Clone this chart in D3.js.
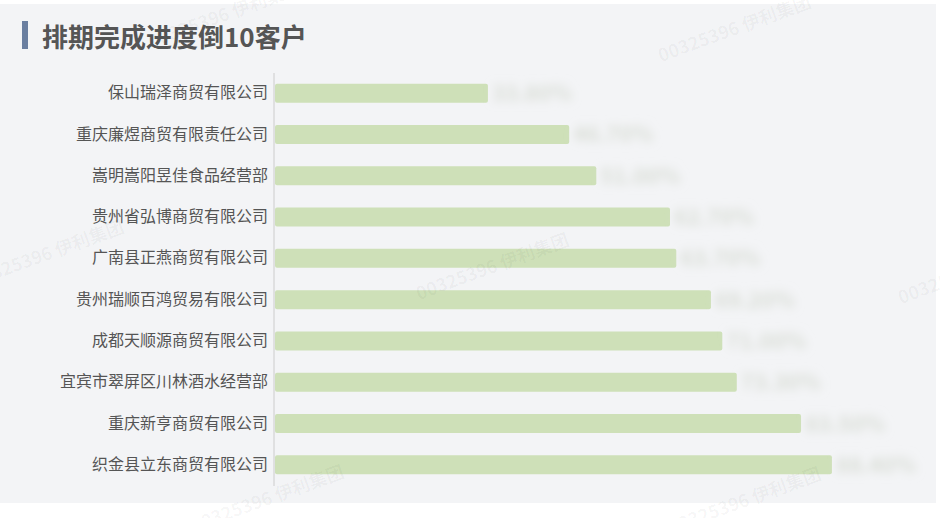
<!DOCTYPE html>
<html>
<head>
<meta charset="utf-8">
<script src="https://cdn.jsdelivr.net/npm/d3@7/dist/d3.min.js"></script>
<style>
  html, body { margin: 0; padding: 0; background: #ffffff; }
  svg { display: block; }
</style>
</head>
<body>
<svg id="chart" width="940" height="518"></svg>
<script>
const title = "排期完成进度倒10客户";
const categories = [
  "保山瑞泽商贸有限公司",
  "重庆廉煜商贸有限责任公司",
  "嵩明嵩阳昱佳食品经营部",
  "贵州省弘博商贸有限公司",
  "广南县正燕商贸有限公司",
  "贵州瑞顺百鸿贸易有限公司",
  "成都天顺源商贸有限公司",
  "宜宾市翠屏区川林酒水经营部",
  "重庆新亨商贸有限公司",
  "织金县立东商贸有限公司"
];
const values = [33.8, 46.7, 51.0, 62.7, 63.7, 69.2, 71.0, 73.3, 83.5, 88.4];
const watermarkText = "00325396 伊利集团";

const svg = d3.select("#chart");

// panel background
svg.append("rect").attr("x", 0).attr("y", 4).attr("width", 936).attr("height", 499).attr("fill", "#f3f4f6");

// title
svg.append("rect").attr("x", 22).attr("y", 21).attr("width", 6).attr("height", 28).attr("fill", "#6a7fa0");
svg.append("text").attr("x", 42).attr("y", 47)
  .attr("font-family", "'Noto Sans CJK SC', sans-serif")
  .attr("font-size", 26).attr("font-weight", "bold").attr("fill", "#555555")
  .text(title);

const x = d3.scaleLinear().domain([0, 100]).range([275, 905]);
const y = d3.scaleBand().domain(categories).range([72.5, 485.5]).paddingInner(0.54).paddingOuter(0.27);

const defs = svg.append("defs");
defs.append("filter").attr("id", "blur").attr("x", "-30%").attr("y", "-150%").attr("width", "160%").attr("height", "400%")
  .append("feGaussianBlur").attr("stdDeviation", 5);

// bars
svg.append("g").selectAll("rect").data(values).join("rect")
  .attr("x", x(0))
  .attr("y", (d, i) => y(categories[i]))
  .attr("width", d => x(d) - x(0))
  .attr("height", y.bandwidth())
  .attr("rx", 2)
  .attr("fill", "#cee0b8");

// blurred value labels (obscured in the reference)
svg.append("g").attr("filter", "url(#blur)").selectAll("text").data(values).join("text")
  .attr("x", d => x(d) + 4)
  .attr("y", (d, i) => y(categories[i]) + y.bandwidth() / 2 + 8)
  .attr("font-family", "'Noto Sans CJK SC', sans-serif")
  .attr("font-size", 22).attr("font-weight", "bold")
  .attr("fill", "#d9ddd6")
  .text(d => d.toFixed(2) + "%");

// y axis
const yAxis = d3.axisLeft(y).tickSize(0).tickPadding(6);
const gy = svg.append("g").attr("transform", `translate(274,0)`).call(yAxis);
gy.select(".domain").attr("stroke", "#cccccc").attr("d", "M0,73V486");
gy.selectAll("text")
  .attr("font-family", "'Noto Sans CJK SC', sans-serif")
  .attr("font-size", 16).attr("fill", "#555555");

// watermarks
const wmPos = [[225, 16], [735, 30], [48, 255], [493, 268], [975, 272], [268, 500], [745, 502]];
svg.append("g").selectAll("text").data(wmPos).join("text")
  .attr("transform", d => `translate(${d[0]},${d[1]}) rotate(-20)`)
  .attr("text-anchor", "middle").attr("dominant-baseline", "middle")
  .attr("font-family", "'Noto Sans CJK SC', sans-serif")
  .attr("font-size", 18).attr("font-weight", "bold")
  .attr("fill", "rgba(0,0,0,0.04)")
  .text(watermarkText);
</script>
</body>
</html>
